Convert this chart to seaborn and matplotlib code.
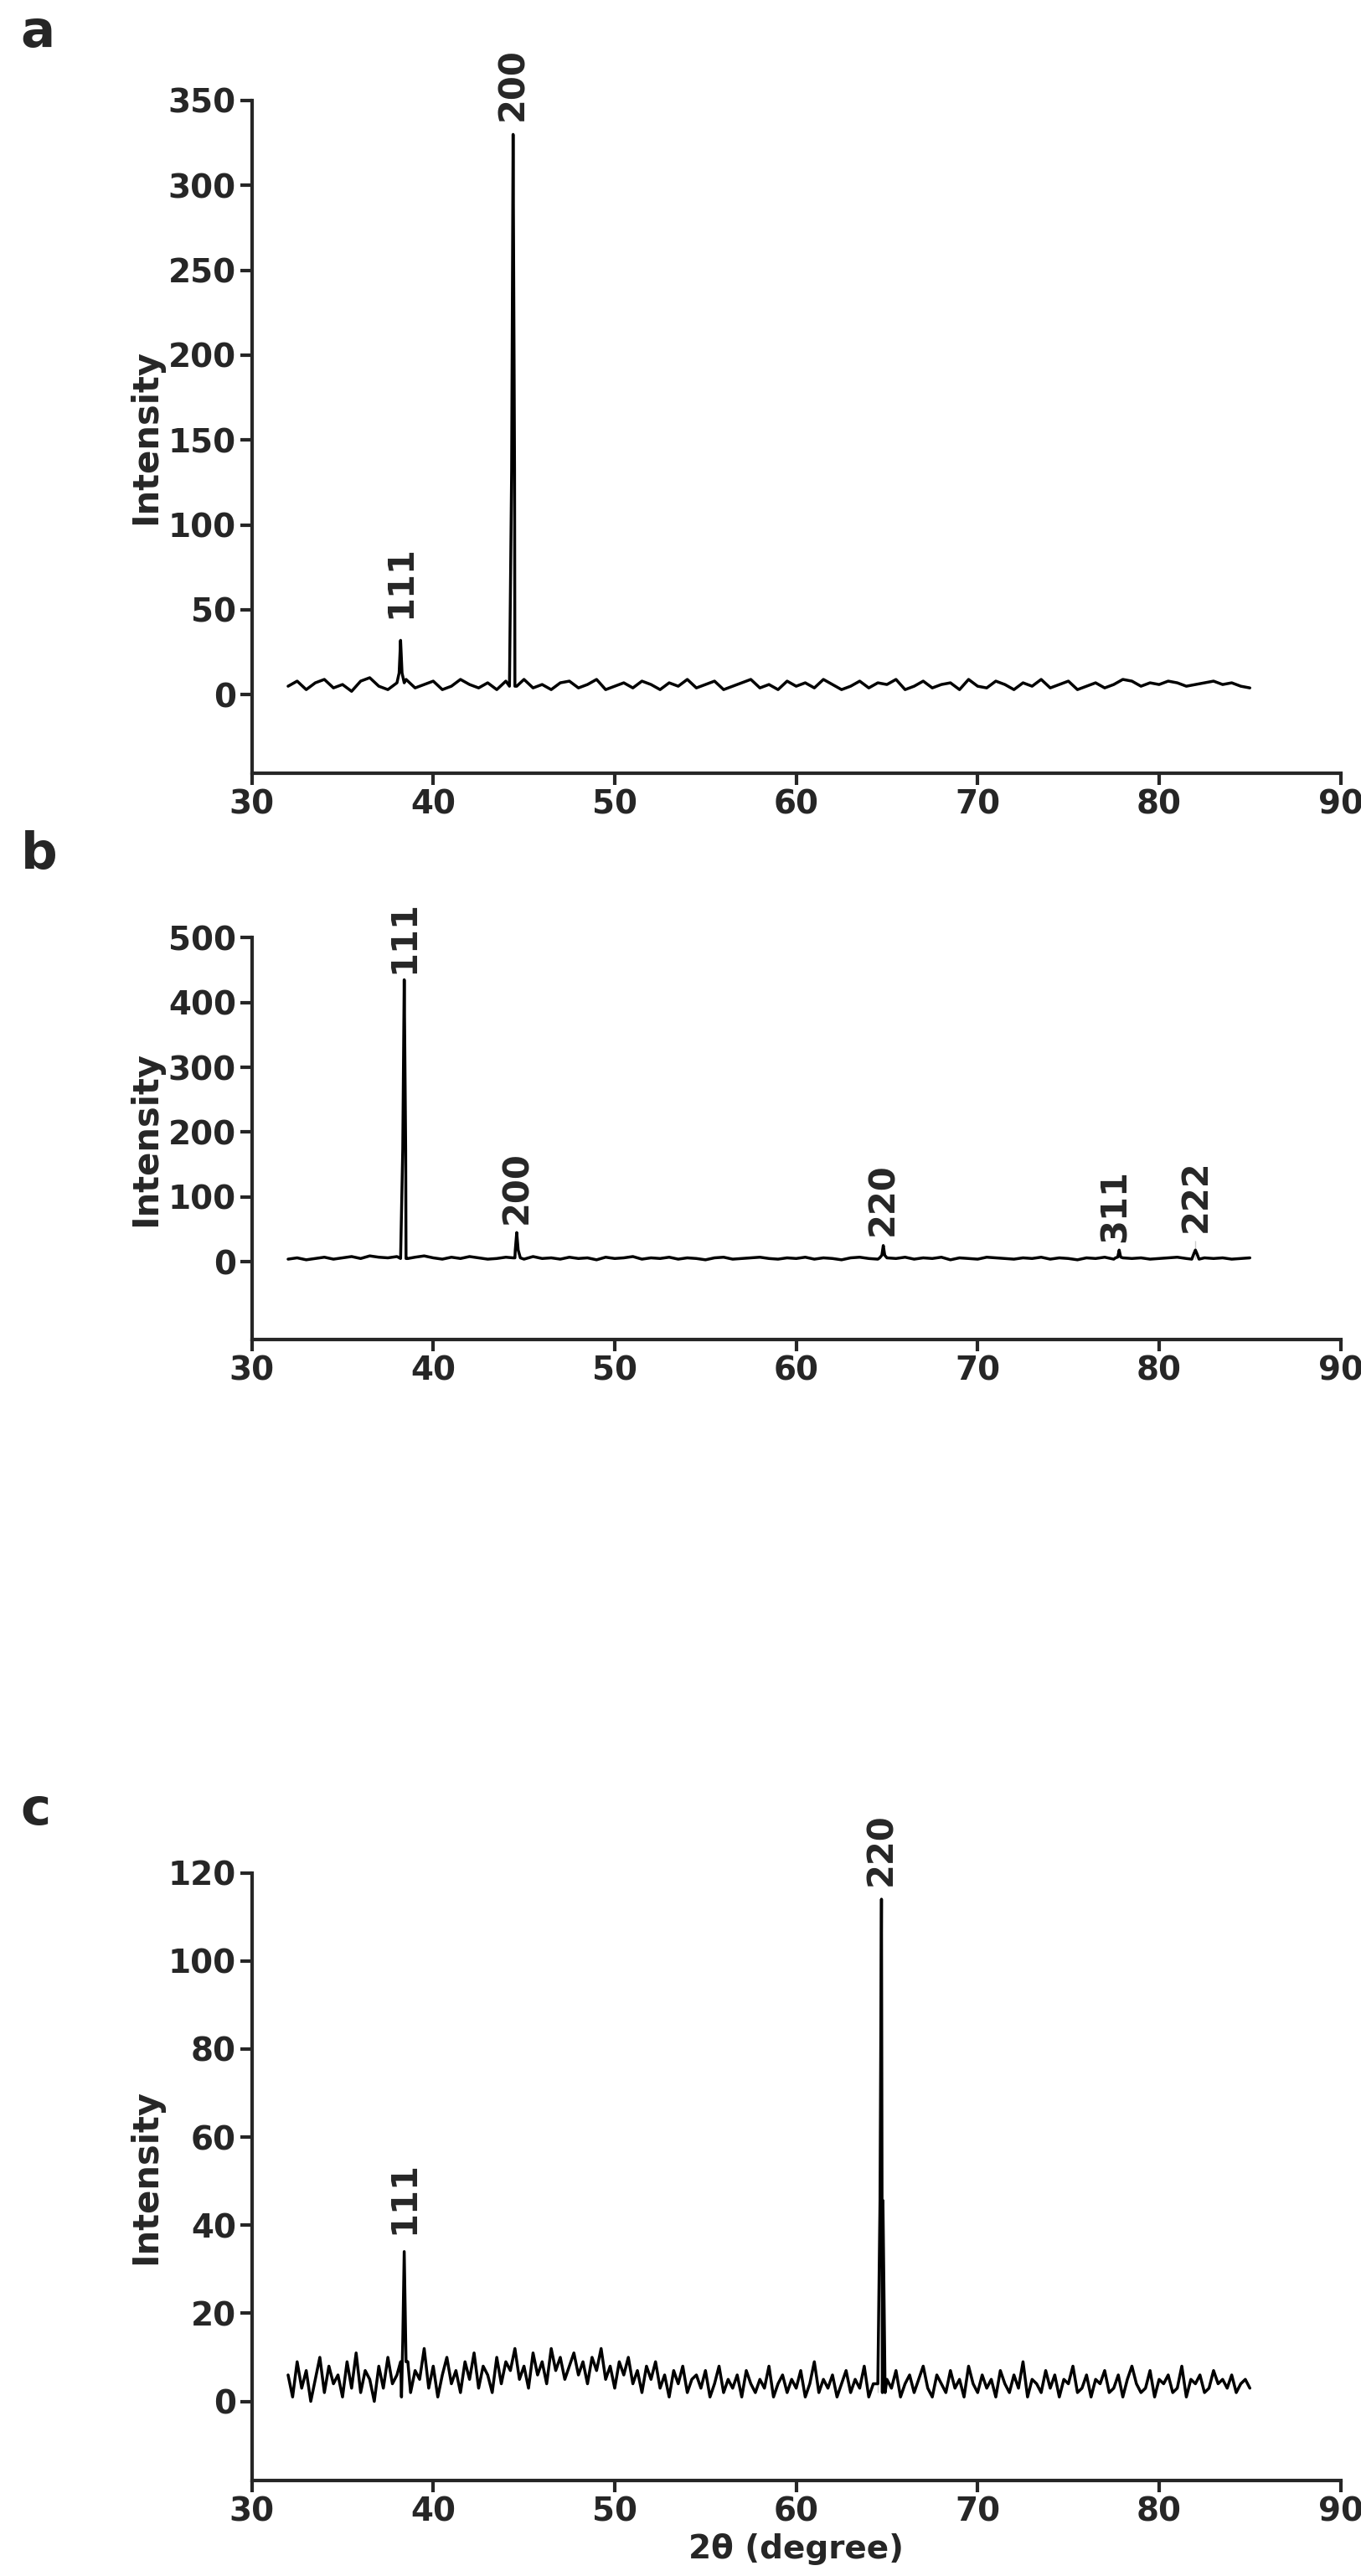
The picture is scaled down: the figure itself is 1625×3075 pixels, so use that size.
import numpy as np
import matplotlib
matplotlib.use("Agg")
import matplotlib.pyplot as plt
import seaborn as sns

sns.set_theme(style="ticks")
plt.rcParams['font.family'] = ['DejaVu Sans']

# baseline noise (2θ grid 32..85)
base_a = [5,8,3,7,9,4,6,2,8,10,5,3,7,9,4,6,8,3,5,9,6,4,7,3,8,5,9,4,6,3,7,8,4,6,9,3,5,7,4,8,6,3,7,5,9,4,6,8,3,5,7,9,4,6,3,8,5,7,4,9,6,3,5,8,4,7,6,9,3,5,8,4,6,7,3,9,5,4,8,6,3,7,5,9,4,6,8,3,5,7,4,6,9,8,5,7,6,8,7,5,6,7,8,6,7,5,4]
base_b = [4,6,3,5,7,4,6,8,5,9,7,6,8,5,7,9,6,4,7,5,8,6,4,5,7,6,4,8,5,6,4,7,5,6,3,7,5,6,8,4,6,5,7,4,6,5,3,6,7,4,5,6,7,5,4,6,5,7,4,6,5,3,6,7,5,4,6,5,7,4,6,5,7,3,6,5,4,7,6,5,4,6,5,7,4,6,5,3,6,5,7,4,6,5,6,4,5,6,7,5,4,6,5,6,4,5,6]
base_c = [6,1,9,3,7,0,5,10,2,8,4,6,1,9,3,11,2,7,5,0,8,3,10,4,6,1,9,2,7,5,12,3,8,1,6,10,4,7,2,9,5,11,3,8,6,2,10,4,9,7,12,5,8,3,11,6,9,4,12,7,10,5,8,11,6,9,4,10,7,12,5,8,3,9,6,10,4,7,2,8,5,9,3,6,1,7,4,8,2,5,6,3,7,1,4,8,2,5,3,6,1,7,4,2,5,3,8,1,4,6,2,5,3,7,1,4,9,2,5,3,6,1,4,7,2,5,3,8,1,4,6,2,5,3,7,1,4,6,2,5,8,3,1,6,4,2,7,3,5,1,8,4,2,6,3,5,1,7,4,2,6,3,9,1,5,4,2,7,3,6,1,5,4,8,2,3,6,1,5,4,7,2,3,6,1,5,8,4,2,3,7,1,5,4,6,2,3,8,1,5,4,6,2,3,7,4,5,3,6,2,4,5,3]

x_ab = np.linspace(32, 85, len(base_a))
x_c = np.linspace(32, 85, len(base_c))

peaks_a = [(38.2, 32), (44.4, 330)]
peaks_b = [(38.4, 435), (44.6, 45), (64.8, 25), (77.8, 18), (82.0, 32)]
peaks_c = [(38.4, 34), (64.7, 114)]

labels_a = [(38.2, 45, "111"), (44.4, 338, "200")]
labels_b = [(38.4, 445, "111"), (44.6, 58, "200"), (64.8, 40, "220"), (77.6, 30, "311"), (82.0, 45, "222")]
labels_c = [(38.4, 38, "111"), (64.7, 117, "220")]

def series(x, base, peaks):
    xs = list(x); ys = list(base)
    for p, h in peaks:
        i = int(np.argmin(np.abs(np.array(x) - p)))
        b = base[i]
        xs += [p - 0.2, p - 0.08, p, p + 0.08, p + 0.2]
        ys += [b, h * 0.4, h, h * 0.4, b]
    order = np.argsort(xs)
    return np.array(xs)[order], np.array(ys)[order]

fig = plt.figure(figsize=(16.25, 30.75), dpi=100)
axes_pos = [[0.185, 0.70, 0.80, 0.261], [0.185, 0.48, 0.80, 0.156], [0.185, 0.037, 0.80, 0.236]]
letter_off = [0.026, 0.032, 0.024]
panels = [
    ("a", x_ab, base_a, peaks_a, labels_a, (-46, 350), np.arange(0, 351, 50)),
    ("b", x_ab, base_b, peaks_b, labels_b, (-120, 500), np.arange(0, 501, 100)),
    ("c", x_c, base_c, peaks_c, labels_c, (-18, 120), np.arange(0, 121, 20)),
]
for pos, off, (lt, x, base, peaks, labs, ylim, yt) in zip(axes_pos, letter_off, panels):
    ax = fig.add_axes(pos)
    xs, ys = series(x, base, peaks)
    sns.lineplot(x=xs, y=ys, ax=ax, color="black", linewidth=2.5, sort=False)
    ax.set_xlim(30, 90); ax.set_ylim(*ylim)
    ax.set_xticks(np.arange(30, 91, 10)); ax.set_yticks(yt)
    sns.despine(ax=ax)
    for s in ["left", "bottom"]:
        ax.spines[s].set_linewidth(3)
    ax.tick_params(direction="out", length=10, width=3, labelsize=28)
    for t in ax.get_xticklabels() + ax.get_yticklabels():
        t.set_fontweight("bold")
    ax.set_ylabel("Intensity", fontsize=30, fontweight="bold")
    for px, py, s in labs:
        ax.text(px, py, s, rotation=90, ha="center", va="bottom", fontsize=30, fontweight="bold")
    fig.text(0.015, pos[1] + pos[3] + off, lt, fontsize=44, fontweight="bold", va="center")
    if lt == "c":
        ax.set_xlabel("2θ (degree)", fontsize=28, fontweight="bold")

fig.savefig("out.png", dpi=100)
